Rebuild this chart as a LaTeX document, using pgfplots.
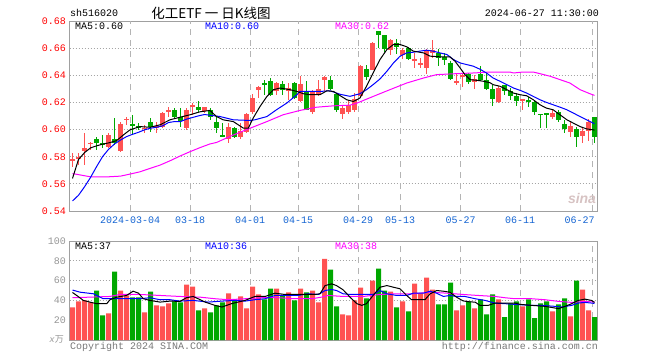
\documentclass[border=0pt]{standalone}
\usepackage{fontspec}
\setmainfont{Liberation Mono}
\newfontfamily\cjk{Noto Sans CJK SC}
\newfontfamily\sansf{Liberation Sans}
\usepackage{pgfplots}
\usepackage{pgfplotstable}
\pgfplotsset{compat=1.18}
\definecolor{cred}{RGB}{255,82,82}
\definecolor{cgreen}{RGB}{0,168,0}
\definecolor{framec}{RGB}{160,160,160}
\definecolor{gridc}{RGB}{165,165,165}
\definecolor{vgridc}{RGB}{180,180,180}
\definecolor{xlab}{RGB}{20,100,210}
\definecolor{labgray}{RGB}{150,150,150}
\definecolor{mblue}{RGB}{0,0,255}
\definecolor{mmag}{RGB}{255,0,255}

% x bodytop bodybottom high low
\pgfplotstableread{
x t b h l
0 0.5780 0.5768 0.5825 0.5726
1 0.5800 0.5788 0.5830 0.5738
2 0.5867 0.5844 0.5973 0.5738
3 0.5899 0.5899 0.5911 0.5849
6 0.5960 0.5869 0.5973 0.5862
8 0.6042 0.5844 0.6059 0.5837
9 0.6077 0.6077 0.6096 0.6035
12 0.6010 0.6010 0.6035 0.5973
14 0.6027 0.6010 0.6059 0.5973
15 0.6121 0.6022 0.6133 0.6010
16 0.6141 0.6126 0.6170 0.6096
19 0.6146 0.6010 0.6158 0.5998
20 0.6175 0.6175 0.6195 0.6109
22 0.6163 0.6138 0.6165 0.6121
26 0.6022 0.5928 0.6047 0.5904
28 0.5990 0.5948 0.6047 0.5928
29 0.6116 0.5985 0.6121 0.5973
30 0.6232 0.6126 0.6264 0.6116
31 0.6311 0.6289 0.6323 0.6232
34 0.6343 0.6286 0.6348 0.6257
36 0.6306 0.6281 0.6343 0.6220
38 0.6338 0.6207 0.6398 0.6200
40 0.6286 0.6133 0.6294 0.6116
41 0.6299 0.6264 0.6368 0.6249
42 0.6385 0.6363 0.6398 0.6281
45 0.6158 0.6114 0.6183 0.6079
46 0.6183 0.6126 0.6220 0.6116
47 0.6225 0.6141 0.6269 0.6133
48 0.6467 0.6244 0.6474 0.6232
50 0.6640 0.6442 0.6644 0.6437
53 0.6657 0.6583 0.6669 0.6553
55 0.6585 0.6553 0.6602 0.6521
57 0.6523 0.6504 0.6565 0.6454
58 0.6484 0.6484 0.6528 0.6454
59 0.6585 0.6454 0.6595 0.6412
60 0.6585 0.6565 0.6659 0.6528
64 0.6360 0.6343 0.6417 0.6331
65 0.6405 0.6388 0.6417 0.6314
67 0.6373 0.6348 0.6405 0.6301
71 0.6306 0.6200 0.6319 0.6195
75 0.6227 0.6207 0.6227 0.6146
80 0.6121 0.6096 0.6146 0.6077
83 0.6027 0.5985 0.6059 0.5948
85 0.5990 0.5956 0.6010 0.5899
86 0.6059 0.5990 0.6077 0.5919
}\redk

\pgfplotstableread{
x t b h l
4 0.5928 0.5899 0.5948 0.5849
5 0.5904 0.5891 0.5960 0.5862
7 0.5933 0.5899 0.6089 0.5886
10 0.6042 0.6030 0.6109 0.5960
11 0.6030 0.6010 0.6047 0.5998
13 0.6054 0.6022 0.6084 0.5985
17 0.6146 0.6096 0.6158 0.6077
18 0.6096 0.6064 0.6158 0.6022
21 0.6165 0.6146 0.6207 0.6133
23 0.6146 0.6096 0.6158 0.6072
24 0.6059 0.6010 0.6096 0.5973
25 0.5960 0.5948 0.6047 0.5943
27 0.6010 0.5948 0.6022 0.5936
32 0.6338 0.6338 0.6368 0.6257
33 0.6360 0.6257 0.6380 0.6249
35 0.6338 0.6294 0.6356 0.6257
37 0.6343 0.6232 0.6348 0.6225
39 0.6281 0.6146 0.6356 0.6141
43 0.6368 0.6299 0.6393 0.6289
44 0.6264 0.6141 0.6269 0.6133
49 0.6447 0.6388 0.6479 0.6368
51 0.6723 0.6699 0.6723 0.6602
52 0.6694 0.6595 0.6694 0.6570
54 0.6635 0.6610 0.6664 0.6560
56 0.6602 0.6521 0.6610 0.6516
61 0.6565 0.6528 0.6595 0.6467
62 0.6536 0.6511 0.6565 0.6479
63 0.6491 0.6373 0.6504 0.6363
66 0.6412 0.6348 0.6417 0.6338
68 0.6412 0.6368 0.6467 0.6356
69 0.6363 0.6301 0.6417 0.6294
70 0.6301 0.6227 0.6331 0.6175
72 0.6331 0.6281 0.6331 0.6257
73 0.6281 0.6249 0.6306 0.6220
74 0.6249 0.6207 0.6269 0.6175
76 0.6220 0.6207 0.6240 0.6165
77 0.6200 0.6126 0.6220 0.6109
78 0.6114 0.6114 0.6114 0.6010
79 0.6116 0.6116 0.6121 0.6010
81 0.6128 0.6067 0.6146 0.6059
82 0.6042 0.6005 0.6072 0.5978
84 0.6005 0.5948 0.6022 0.5874
87 0.6091 0.5948 0.6091 0.5899
}\greenk

\pgfplotstableread{
x v
0 33
1 39
2 40
3 38
6 27
8 50
9 45
12 28
14 35
15 34
16 37
19 56
20 54
22 32
26 47
28 44
29 32
30 54
31 46
34 52
36 48
38 52
40 50
41 38
42 82
45 26
46 25
47 40
48 53
50 60
53 49
55 39
57 57
58 47
59 63
60 51
64 30
65 35
67 32
71 41
75 34
80 29
83 24
85 51
86 30
}\redv

\pgfplotstableread{
x v
4 50
5 25
7 69
10 43
11 43
13 49
17 39
18 38
21 30
23 28
24 35
25 38
27 41
32 41
33 52
35 45
37 40
39 48
43 71
44 34
49 42
51 72
52 50
54 33
56 29
61 36
62 36
63 58
66 39
68 41
69 26
70 46
72 23
73 37
74 39
76 41
77 22
78 37
79 39
81 36
82 42
84 60
87 23
}\greenv

\tikzset{
  vgrid/.style={draw=vgridc, line width=1pt, dash pattern=on 6pt off 5pt},
}
\pgfplotsset{
  kpanel/.style={
    scale only axis, width=528pt, xmin=-0.5, xmax=87.5,
    axis line style={draw=framec, line width=1pt},
    major tick length=0pt, tick style={draw=none},
    ymajorgrids, grid style={draw=gridc, line width=0.8pt, dash pattern=on 1pt off 2pt},
    yticklabel style={inner sep=0pt, xshift=-3.5pt},
  },
  wick/.style={draw=none, mark=none, forget plot,
    error bars/.cd, y dir=both, y explicit, error mark=none,
    error bar style={draw=#1, line width=1pt}},
  body/.style={draw=none, mark=none, forget plot,
    error bars/.cd, y dir=both, y explicit, error mark=none,
    error bar style={draw=#1, line width=5pt}},
}

\begin{document}
\begin{tikzpicture}
\path[use as bounding box] (0,0) rectangle (660pt,-360pt);

% header
\node[anchor=west, inner sep=0pt] at (70pt,-13pt) {sh516020};
\node[inner sep=0pt] at (211pt,-13pt) {\cjk\fontsize{13.5}{14}\selectfont 化工ETF 一 日K线图};
\node[anchor=east, inner sep=0pt] at (599pt,-13pt) {2024-06-27 11:30:00};

\begin{axis}[kpanel,
  at={(69.5pt,-21pt)}, anchor=north west, height=190pt,
  ymin=0.54, ymax=0.68,
  ytick={0.54,0.56,0.58,0.60,0.62,0.64,0.66,0.68},
  yticklabel style={text=red, /pgf/number format/fixed, /pgf/number format/fixed zerofill, /pgf/number format/precision=2, /pgf/number format/assume math mode=true},
  xtick={9.6,19.6,29.6,37.6,47.6,54.6,64.7,74.6,86.7},
  xticklabels={2024-03-04,03-18,04-01,04-15,04-29,05-13,05-27,06-11,\makebox[4pt][r]{06-27}},
  xticklabel style={text=xlab, inner sep=0pt, yshift=-6pt},
]
\pgfplotsinvokeforeach{9.6,19.6,29.6,37.6,47.6,54.6,64.7,74.6,86.7}{
  \draw[vgrid] (axis cs:#1,0.54) -- (axis cs:#1,0.68);
}
\addplot[wick=cred] table[x=x, y expr={(\thisrow{h}+\thisrow{l})/2}, y error expr={(\thisrow{h}-\thisrow{l})/2}] {\redk};
\addplot[body=cred] table[x=x, y expr={(\thisrow{t}+\thisrow{b})/2}, y error expr={max((\thisrow{t}-\thisrow{b})/2,0.00037)}] {\redk};
\addplot[wick=cgreen] table[x=x, y expr={(\thisrow{h}+\thisrow{l})/2}, y error expr={(\thisrow{h}-\thisrow{l})/2}] {\greenk};
\addplot[body=cgreen] table[x=x, y expr={(\thisrow{t}+\thisrow{b})/2}, y error expr={max((\thisrow{t}-\thisrow{b})/2,0.00037)}] {\greenk};

% MA30
\addplot[mmag, line width=1pt] coordinates {(0,0.5676) (1,0.5668) (3,0.5652) (6,0.5652) (8,0.5657) (9.58,0.5672) (11.25,0.5689) (12.92,0.5714) (14.58,0.5738) (16.25,0.5770) (17.92,0.5805) (19.58,0.5837) (21.25,0.5867) (22.9,0.5894) (24.0,0.5905) (26.8,0.5960) (29.6,0.6010) (32.4,0.6059) (35.1,0.6109) (37.9,0.6141) (40.7,0.6165) (43.5,0.6175) (46.25,0.6180) (47.4,0.6195) (50.1,0.6244) (52.9,0.6294) (55.7,0.6343) (58.5,0.6380) (60.7,0.6405) (64.0,0.6412) (66.8,0.6417) (69.6,0.6424) (72.9,0.6424) (73.5,0.6417) (75.1,0.6424) (76.8,0.6424) (77.9,0.6412) (79.6,0.6393) (81.25,0.6368) (82.9,0.6343) (84.6,0.6294) (86.25,0.6264) (87,0.6252)};
% MA10
\addplot[mblue, line width=1pt] coordinates {(0,0.5474) (1,0.5516) (2,0.5578) (3,0.5647) (4,0.5726) (5,0.5800) (6,0.5854) (7,0.5894) (8,0.5923) (9,0.5948) (10,0.5965) (11,0.5980) (12,0.5998) (13,0.6010) (14,0.6017) (15,0.6027) (16,0.6052) (17,0.6059) (18,0.6059) (19,0.6077) (20,0.6089) (21,0.6101) (22,0.6111) (24.6,0.6096) (26.8,0.6072) (29.6,0.6067) (30.4,0.6072) (32.4,0.6096) (34.0,0.6146) (35.7,0.6195) (37.4,0.6257) (37.9,0.6281) (39.6,0.6281) (41.25,0.6281) (42.9,0.6286) (44.6,0.6260) (46.25,0.6245) (47.9,0.6264) (49.0,0.6294) (50.1,0.6331) (51.25,0.6373) (52.4,0.6430) (53.5,0.6491) (54.6,0.6541) (55.7,0.6565) (56.8,0.6570) (57.9,0.6578) (59.0,0.6585) (60.1,0.6578) (61.25,0.6565) (62.4,0.6553) (63.5,0.6516) (64.6,0.6491) (65.7,0.6479) (66.8,0.6467) (67.9,0.6445) (69.0,0.6417) (70.1,0.6380) (71.25,0.6356) (72.4,0.6331) (73.5,0.6306) (74.6,0.6289) (75.7,0.6269) (76.8,0.6244) (77.9,0.6220) (79.0,0.6200) (80.1,0.6183) (81.25,0.6165) (82.4,0.6146) (83.5,0.6121) (84.6,0.6096) (85.7,0.6072) (86.8,0.6047) (87,0.6043)};
% MA5
\addplot[black, line width=1pt] coordinates {(0,0.5640) (1,0.5780) (2,0.5830) (3,0.5865) (4,0.5880) (5.14,0.5894) (6.25,0.5904) (7.36,0.5919) (8.47,0.5960) (9.58,0.5998) (11.25,0.6022) (12.92,0.6017) (14.58,0.6035) (16.25,0.6072) (17.92,0.6091) (19.58,0.6109) (21.25,0.6131) (22.9,0.6141) (24.0,0.6096) (25.1,0.6072) (26.8,0.6059) (28.5,0.6010) (29.3,0.6010) (30.1,0.6084) (31.25,0.6170) (32.4,0.6244) (33.5,0.6294) (34.6,0.6306) (36.25,0.6294) (37.4,0.6281) (38.5,0.6264) (39.6,0.6257) (41.25,0.6257) (42.4,0.6286) (43.5,0.6281) (44.6,0.6250) (45.7,0.6220) (46.8,0.6207) (47.9,0.6232) (49.0,0.6319) (50.1,0.6417) (51.25,0.6516) (52.4,0.6590) (53.5,0.6627) (54.6,0.6627) (55.7,0.6610) (56.8,0.6578) (58.5,0.6565) (59.6,0.6541) (61.25,0.6536) (62.9,0.6536) (63.75,0.6504) (64.6,0.6454) (65.4,0.6405) (66.25,0.6368) (67.4,0.6363) (68.5,0.6356) (69.6,0.6345) (70.1,0.6331) (71.25,0.6319) (72.4,0.6294) (73.5,0.6269) (74.6,0.6257) (75.7,0.6249) (76.8,0.6220) (77.9,0.6183) (79.0,0.6158) (80.1,0.6146) (81.25,0.6109) (82.4,0.6072) (83.5,0.6047) (84.6,0.6022) (85.7,0.6005) (86.8,0.5998) (87,0.5996)};
\end{axis}

\node[anchor=west, inner sep=0pt] at (75pt,-26.5pt) {MA5:0.60};
\node[anchor=west, inner sep=0pt, text=mblue] at (205pt,-26.5pt) {MA10:0.60};
\node[anchor=west, inner sep=0pt, text=mmag] at (335pt,-26.5pt) {MA30:0.62};
\node[inner sep=0pt, text={rgb,255:red,215;green,195;blue,195}] at (582pt,-198pt) {\sansf\bfseries\itshape\fontsize{14}{14}\selectfont sina};

\begin{axis}[kpanel,
  at={(69.5pt,-241pt)}, anchor=north west, height=99pt,
  ymin=0, ymax=100,
  ytick={20,40,60,80,100},
  yticklabel style={text=labgray, /pgf/number format/assume math mode=true},
  xtick=\empty,
]
\pgfplotsinvokeforeach{9.6,19.6,29.6,37.6,47.6,54.6,64.7,74.6,86.7}{
  \draw[vgrid] (axis cs:#1,0) -- (axis cs:#1,100);
}
\addplot[ybar, bar width=5pt, bar shift=0pt, fill=cred, draw=none] table[x=x, y=v] {\redv};
\addplot[ybar, bar width=5pt, bar shift=0pt, fill=cgreen, draw=none] table[x=x, y=v] {\greenv};
% volume MA30
\addplot[mmag, line width=1pt] coordinates {(0,42.7) (2.9,43.3) (6.25,44) (7.9,46) (11.25,46) (14.6,45) (17.9,44) (21.25,43.3) (23.75,41.7) (26.0,40.7) (28.75,41.7) (31.5,42.7) (34.3,42.7) (37.1,41.7) (39.9,41.7) (41.5,43.3) (42.6,45) (45.1,44) (48.5,44) (51.25,46) (54.0,46.7) (56.8,46.7) (59.6,48.3) (62.4,47.3) (65.1,46) (67.6,45) (70.4,44) (72.1,42.7) (73.75,41.7) (76.5,41.7) (78.75,40.7) (81.0,39) (83.2,38) (85.4,39) (87,38.3)};
% volume MA10
\addplot[mblue, line width=1pt] coordinates {(0,50.5) (1.25,48.3) (3.5,46.7) (5.1,41.7) (9.0,41.7) (11.25,41.7) (12.9,42.7) (14.6,40.7) (16.25,40.7) (17.9,39.3) (20.1,40) (22.6,38.3) (24.9,39.3) (27.1,40) (28.75,39.3) (30.4,40.7) (32.1,41.7) (33.75,45) (35.4,45) (37.6,45) (39.3,46.7) (41.0,46) (42.1,50) (43.2,51) (44.0,50) (45.1,46.7) (46.25,46) (48.5,46) (50.1,46) (51.25,50) (52.4,46.7) (54.0,45) (55.7,45) (56.8,47.3) (58.5,47.3) (59.6,49.3) (60.7,47.3) (61.8,44) (62.9,45) (64.0,44) (65.4,44) (67.1,41.7) (68.75,40) (70.4,37.3) (72.1,36.7) (73.75,36) (76.5,35) (78.2,35) (80.4,34) (81.5,33.3) (83.2,35) (84.3,37.3) (85.4,38) (87,37)};
% volume MA5
\addplot[black, line width=1pt] coordinates {(0,48) (0.7,45) (1.8,40) (2.9,38.3) (4.0,36.7) (5.7,36.7) (6.25,40.7) (7.4,43.3) (9.0,45) (10.1,49.3) (11.0,47.3) (11.8,41.7) (12.9,40) (14.6,38.3) (16.25,39.3) (17.9,39) (19.0,42.7) (20.1,44) (21.0,41.5) (22.1,38.3) (23.75,35) (24.9,33.3) (26.5,36.7) (28.75,40) (30.4,44) (32.1,44) (33.75,47.3) (35.4,46) (37.1,46) (38.75,46) (40.4,46) (41.25,46.7) (42.1,55) (43.2,56.7) (44.0,55) (45.1,50.7) (46.25,43.3) (47.4,36.7) (48.2,35) (49.0,36.7) (50.1,45) (51.25,53.3) (52.4,55) (53.5,53.3) (54.6,51.7) (55.7,45) (56.5,40.7) (57.9,40.7) (58.75,40.7) (59.6,46.7) (60.7,50) (61.8,49.3) (62.9,48.3) (64.0,43.3) (65.1,39.5) (66.25,38.5) (67.1,38.3) (67.9,35) (69.3,35) (70.4,37.3) (72.1,37.3) (73.75,37.3) (74.6,36) (76.5,35) (78.75,34) (81.0,31.7) (82.1,34) (83.2,36.7) (84.3,40) (85.4,41.3) (86.5,40) (87,38)};
\end{axis}

\node[anchor=west, inner sep=0pt] at (75pt,-246.5pt) {MA5:37};
\node[anchor=west, inner sep=0pt, text=mblue] at (205pt,-246.5pt) {MA10:36};
\node[anchor=west, inner sep=0pt, text=mmag] at (335pt,-246.5pt) {MA30:38};
\node[anchor=east, inner sep=0pt, text=labgray] at (64pt,-339pt) {\fontsize{9}{9}\selectfont\itshape x\cjk 万};

\node[anchor=west, inner sep=0pt, text=labgray!80!black] at (70pt,-347pt) {Copyright 2024 SINA.COM};
\node[anchor=east, inner sep=0pt, text=labgray!80!black] at (598pt,-347pt) {http://finance.sina.com.cn};
\end{tikzpicture}
\end{document}
